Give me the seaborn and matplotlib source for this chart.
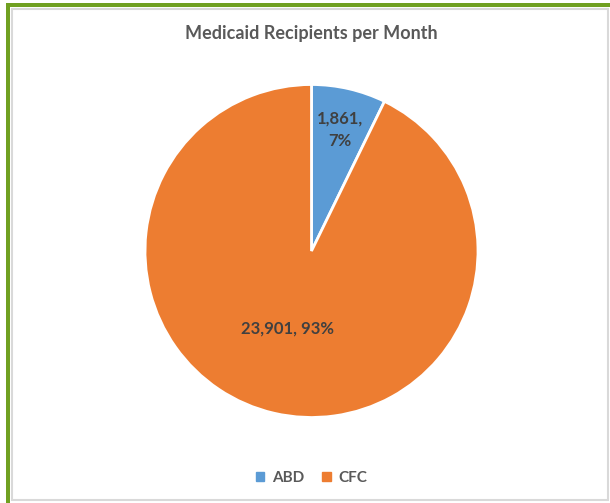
import matplotlib
matplotlib.use("Agg")
import matplotlib.pyplot as plt
import matplotlib.patches as mpatches
import seaborn as sns
import numpy as np

# data
categories = ["ABD", "CFC"]
recipients = [1861, 23901]
colors = ["#5B9BD5", "#ED7D31"]
label_dist = [0.75, 0.48]

sns.set_theme(style="white")
plt.rcParams["font.family"] = ["Lato", "DejaVu Sans"]

W, H = 610, 503
fig = plt.figure(figsize=(W / 100, H / 100), dpi=100)

# frame: green outer border + light gray chart border
fig.patches.append(mpatches.Rectangle((6 / W, 0), 4 / W, (H - 3) / H, transform=fig.transFigure,
                                      facecolor="#70A021", edgecolor="none", zorder=0))
fig.patches.append(mpatches.Rectangle((6 / W, (H - 7) / H), (W - 6) / W, 4 / H, transform=fig.transFigure,
                                      facecolor="#70A021", edgecolor="none", zorder=0))
fig.patches.append(mpatches.Rectangle((12.5 / W, 3 / H), 595 / W, 491 / H, transform=fig.transFigure,
                                      facecolor="white", edgecolor="#D9D9D9", linewidth=1.5, zorder=0))

# pie axes: center (311.5, 251), radius 166.5 px
cx, cy, r = 311.5, 251, 166.5
ax = fig.add_axes([(cx - r) / W, (H - cy - r) / H, 2 * r / W, 2 * r / H])
ax.set_zorder(2)
ax.patch.set_visible(False)
wedges, _ = ax.pie(recipients, colors=colors, startangle=90, counterclock=False,
                   radius=1, wedgeprops=dict(edgecolor="white", linewidth=2))
ax.set_xlim(-1, 1)
ax.set_ylim(-1, 1)
ax.set_aspect("equal")
ax.axis("off")

total = sum(recipients)
texts = [f"{recipients[0]:,},\n{recipients[0] / total:.0%}",
         f"{recipients[1]:,}, {recipients[1] / total:.0%}"]
for i, (w, t, d) in enumerate(zip(wedges, texts, label_dist)):
    ang = np.deg2rad((w.theta1 + w.theta2) / 2)
    x, y = d * np.cos(ang), d * np.sin(ang)
    if i == 1:
        x -= 0.035  # Excel nudges the big label a bit left
    ax.text(x, y, t, ha="center", va="center",
            fontsize=12, fontweight="bold", color="#404040", linespacing=1.5)

fig.text(cx / W, 1 - 33 / H, "Medicaid Recipients per Month", ha="center", va="center",
         fontsize=13, fontweight="bold", color="#595959", zorder=3)

handles = [mpatches.Patch(color=c, label=l) for c, l in zip(colors, categories)]
leg = fig.legend(handles=handles, loc="center", bbox_to_anchor=(cx / W, 1 - 478 / H), ncol=2,
                 frameon=False, handlelength=0.55, handleheight=0.55, handletextpad=0.5, columnspacing=1.2,
                 prop=dict(family=["Lato", "DejaVu Sans"], weight="bold", size=11), labelcolor="#595959")
leg.set_zorder(3)

fig.savefig("out.png", dpi=100)
